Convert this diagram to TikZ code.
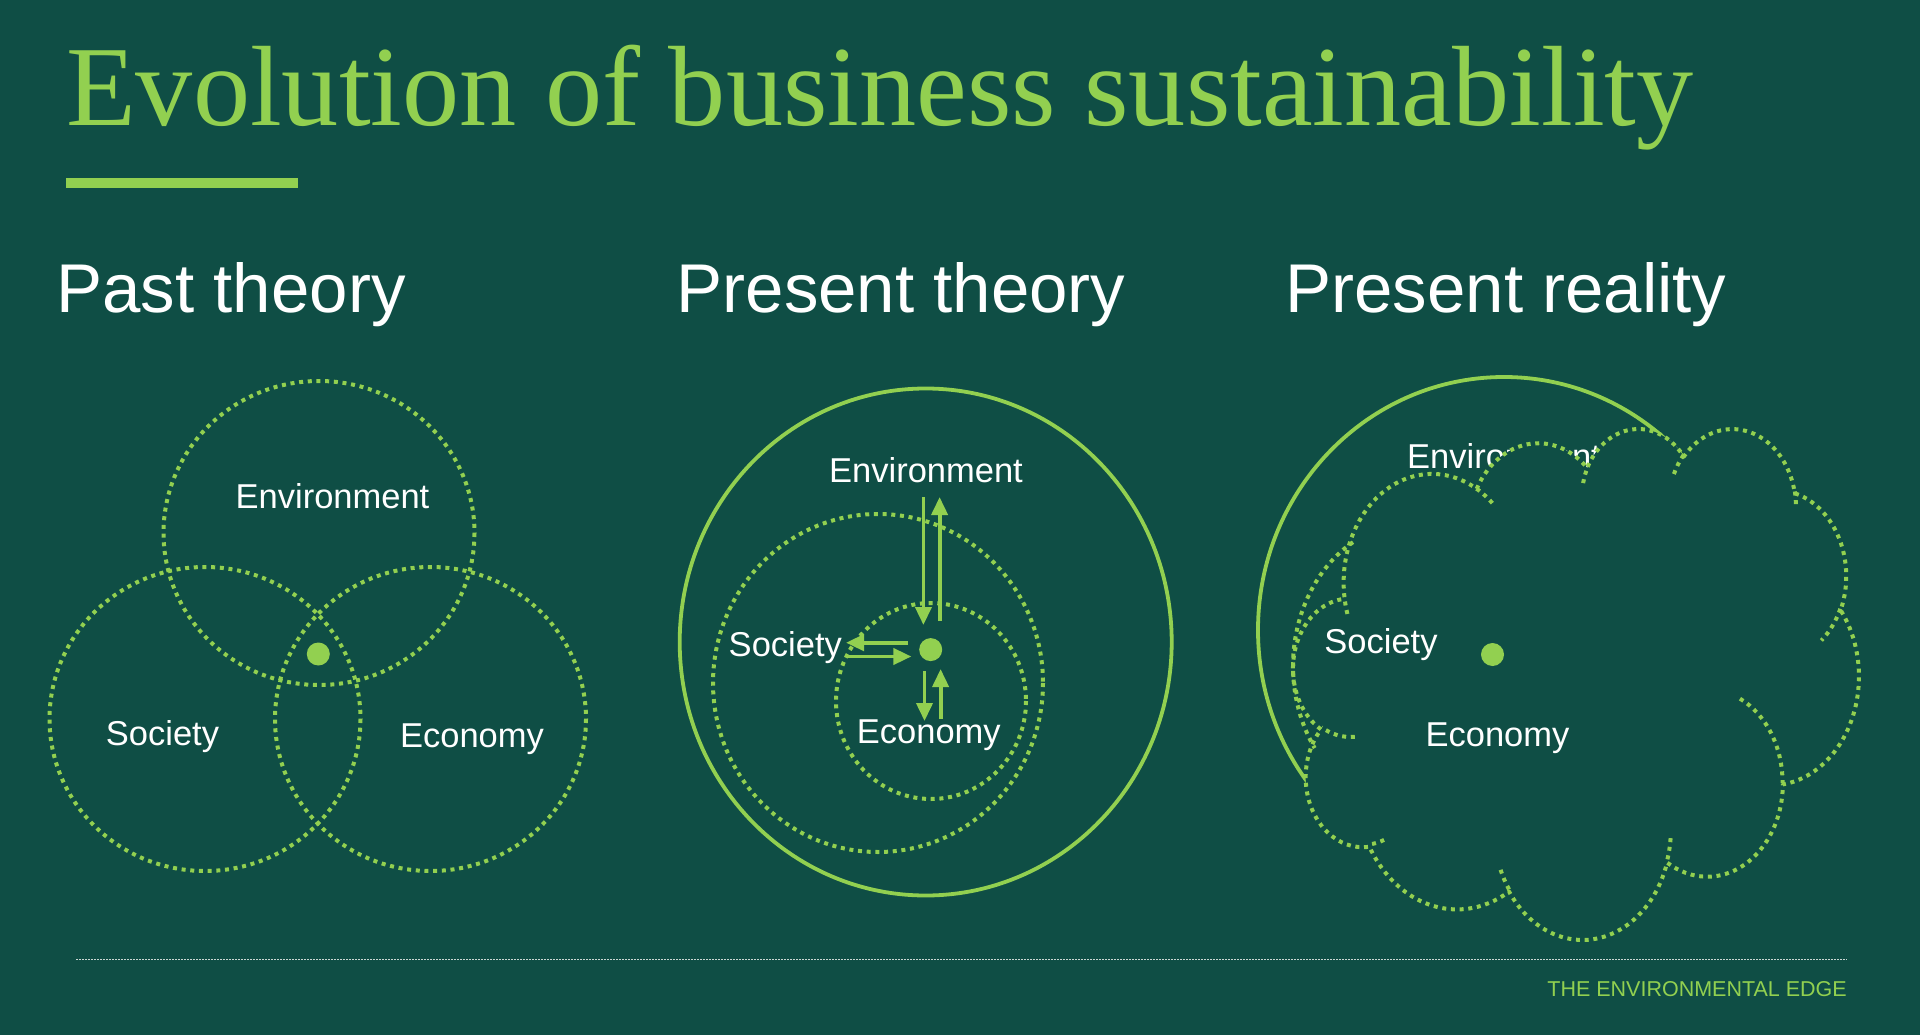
\documentclass[tikz,border=0pt]{standalone}
\usepackage{fontspec}
\setmainfont{Liberation Serif}
\setsansfont{Liberation Sans}
\usepackage{tikz}
\usetikzlibrary{arrows.meta}
\definecolor{sbBack}{HTML}{0F4E45}
\definecolor{sbGreen}{HTML}{92D050}
\definecolor{sbRule}{HTML}{C9D6D2}
\tikzset{
  sb diagram/.style={font=\sffamily, x=1pt, y=-1pt, line join=round},
  sb title/.style={font=\rmfamily\fontsize{114.2}{114.2}\selectfont, text=sbGreen,
    anchor=base west, inner sep=0pt},
  sb heading/.style={font=\sffamily\fontsize{69}{69}\selectfont, text=white,
    anchor=base west, inner sep=0pt},
  sb label/.style={font=\sffamily\fontsize{34.5}{34.5}\selectfont, text=white,
    anchor=base, inner sep=0pt},
  sb ring/.style={draw=sbGreen, line width=4pt, dash pattern=on 4pt off 4.7pt},
  sb solid ring/.style={draw=sbGreen, line width=3.8pt},
  sb dot/.style={circle, fill=sbGreen, inner sep=0pt, minimum size=23pt},
  sb arrow/.style={-{Triangle[length=18pt,width=16pt]}, draw=sbGreen, line width=3.8pt},
  sb rule/.style={draw=sbRule, line width=1.5pt, dash pattern=on 1.5pt off 1.5pt},
  sb footer/.style={font=\sffamily\fontsize{21.5}{21.5}\selectfont, text=sbGreen,
    anchor=base east, inner sep=0pt}
}

\begin{document}
\begin{tikzpicture}[sb diagram]
\fill[sbBack] (0,0) rectangle (1920,1035);
\useasboundingbox (0,0) rectangle (1920,1035);
% title block
\node[sb title] (title) at (66,125.7) {Evolution of business sustainability};
\fill[sbGreen] (66,178) rectangle (298,188);
\node[sb heading] (pastHead) at (56.4,312.7) {Past theory};
\node[sb heading] (theoryHead) at (676.5,312.7) {Present theory};
\node[sb heading] (realHead) at (1285.2,312.7) {Present reality};

% past theory
\draw[sb ring] (319,533) ellipse [x radius=155.5, y radius=152];
\draw[sb ring] (205,719) ellipse [x radius=155.5, y radius=152];
\draw[sb ring] (430.5,719) ellipse [x radius=155.5, y radius=152];
\node[sb label] (pastEnv) at (332.5,508) {Environment};
\node[sb label] (pastSoc) at (162.5,745) {Society};
\node[sb label] (pastEco) at (472,747) {Economy};
\node[sb dot] (pastCore) at (318.3,654) {};

% present theory
\draw[sb solid ring] (925.7,642) ellipse [x radius=246, y radius=253.5];
\draw[sb ring] (878,683) ellipse [x radius=165, y radius=169];
\draw[sb ring] (931,701) ellipse [x radius=95, y radius=98];
\node[sb label] (theoryEnv) at (926,482) {Environment};
\node[sb label] (theorySoc) at (785.3,656.5) {Society};
\node[sb label] (theoryEco) at (928.8,743.3) {Economy};
\node[sb dot] (theoryCore) at (930.7,649.6) {};
\coordinate (envDownA) at (923.4,497);
\coordinate (envDownB) at (923.4,625);
\coordinate (envUpA) at (939.6,621);
\coordinate (envUpB) at (939.6,497);
\coordinate (socOutA) at (908,642.7);
\coordinate (socOutB) at (846,642.7);
\coordinate (socInA) at (847.7,656.5);
\coordinate (socInB) at (911.4,656.5);
\coordinate (ecoDownA) at (924.5,671);
\coordinate (ecoDownB) at (924.5,721);
\coordinate (ecoUpA) at (940.6,719);
\coordinate (ecoUpB) at (940.6,669);
\draw[sb arrow] (envDownA) -- (envDownB);
\draw[sb arrow] (envUpA) -- (envUpB);
\draw[sb arrow] (socOutA) -- (socOutB);
\draw[sb arrow] (socInA) -- (socInB);
\draw[sb arrow] (ecoDownA) -- (ecoDownB);
\draw[sb arrow] (ecoUpA) -- (ecoUpB);

% present reality
\draw[sb solid ring] (1504,630) ellipse [x radius=246, y radius=253];
\node[sb label] (realEnv) at (1504,468.3) {Environment};
\begin{scope}[shift={(1293.4,427.3)}, xscale=1.3085, yscale=1.1823]
  \draw[sb ring, fill=sbBack] (39.00,143.70)
    arc[start angle=172.26, end angle=300.37, x radius=67.53, y radius=91.90]
    arc[start angle=207.99, end angle=314.56, x radius=53.33, y radius=72.67]
    arc[start angle=206.50, end angle=322.67, x radius=43.65, y radius=59.45]
    arc[start angle=220.29, end angle=349.79, x radius=48.57, y radius=65.95]
    arc[start angle=-74.77, end angle=23.21, x radius=53.33, y radius=72.73]
    arc[start angle=-37.53, end angle=81.86, x radius=67.75, y radius=92.20]
    arc[start angle=0.46, end angle=121.97, x radius=57.85, y radius=78.67]
    arc[start angle=16.84, end angle=146.23, x radius=67.52, y radius=92.15]
    arc[start angle=58.98, end angle=150.19, x radius=77.20, y radius=105.43]
    arc[start angle=83.31, end angle=223.11, x radius=43.60, y radius=59.18]
    arc[start angle=120.36, end angle=264.11, x radius=43.45, y radius=59.45]
    -- cycle;
  % inner puff lines
  \draw[sb ring] (46.93,261.77) arc[start angle=85.55, end angle=120.36, x radius=43.45, y radius=59.45];
  \draw[sb ring] (69.28,348.99) arc[start angle=68.24, end angle=83.31, x radius=43.60, y radius=59.18];
  \draw[sb ring] (164.78,390.90) arc[start angle=146.23, end angle=158.47, x radius=67.52, y radius=92.15];
  \draw[sb ring] (288.27,347.51) arc[start angle=4.74, end angle=16.84, x radius=67.52, y radius=92.15];
  \draw[sb ring] (341.29,229.54) arc[start angle=-64.03, end angle=0.46, x radius=57.85, y radius=78.67];
  \draw[sb ring] (417.98,153.54) arc[start angle=23.21, end angle=49.64, x radius=53.33, y radius=72.73];
  \draw[sb ring] (383.24,54.26) arc[start angle=-10.21, end angle=0.82, x radius=48.57, y radius=65.95];
  \draw[sb ring] (290.78,39.52) arc[start angle=-156.29, end angle=-139.71, x radius=48.57, y radius=65.95];
  \draw[sb ring] (221.41,47.20) arc[start angle=-167.73, end angle=-153.50, x radius=43.65, y radius=59.45];
  \draw[sb ring] (140.00,51.92) arc[start angle=-59.63, end angle=-45.72, x radius=67.53, y radius=91.90];
  \draw[sb ring] (41.27,157.89) arc[start angle=163.19, end angle=172.26, x radius=67.53, y radius=91.90];
\end{scope}
\draw[sb ring] (1353,542.2) arc[start angle=-120, end angle=-215, x radius=120, y radius=143];
\node[sb label] (realSoc) at (1381,653) {Society};
\node[sb label] (realEco) at (1497.5,746) {Economy};
\node[sb dot] (realCore) at (1492.5,654.5) {};

% footer
\draw[sb rule] (76,959.5) -- (1847,959.5);
\node[sb footer] (brand) at (1847,996) {THE ENVIRONMENTAL EDGE};
\end{tikzpicture}
\end{document}
